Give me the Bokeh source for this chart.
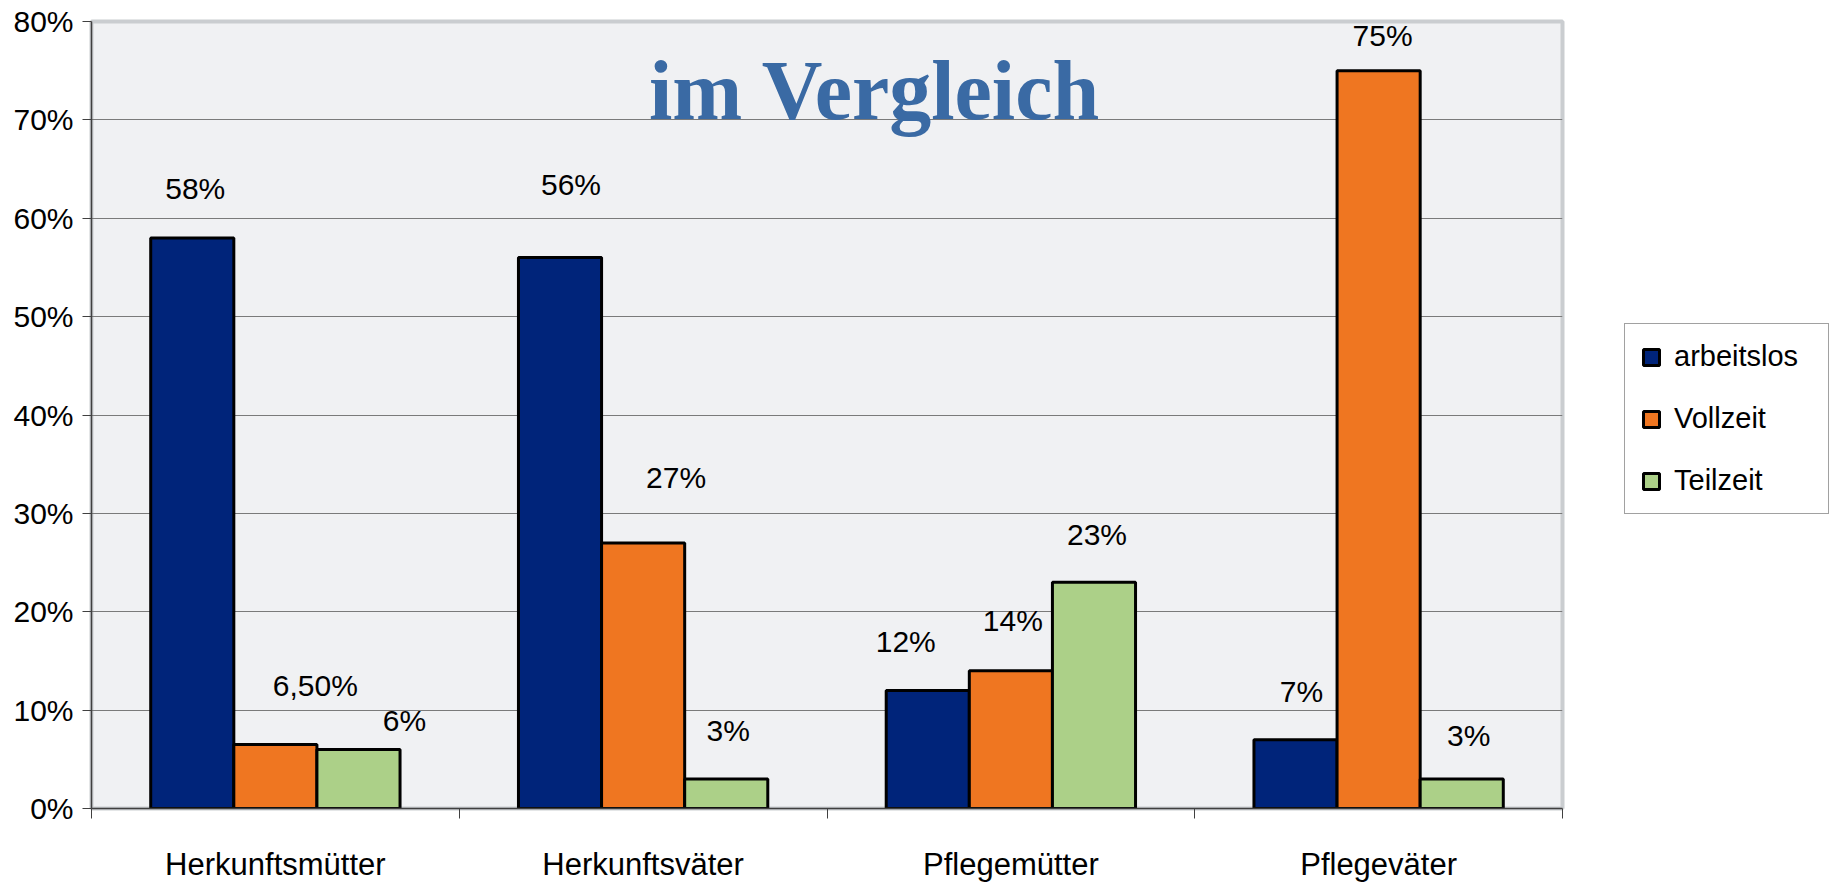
import numpy as np
from bokeh.plotting import figure
from bokeh.layouts import row
from bokeh.models import (ColumnDataSource, Range1d, FixedTicker, PrintfTickFormatter,
                          Legend, LegendItem, Label)
from bokeh.core.properties import value
from bokeh.embed import file_html
from bokeh.resources import INLINE

# ---- data ----
categories = ["Herkunftsmütter", "Herkunftsväter", "Pflegemütter", "Pflegeväter"]
series_names = ["arbeitslos", "Vollzeit", "Teilzeit"]
arbeitslos = [58, 56, 12, 7]
vollzeit = [6.5, 27, 14, 75]
teilzeit = [6, 3, 23, 3]
labels_arbeitslos = ["58%", "56%", "12%", "7%"]
labels_vollzeit = ["6,50%", "27%", "14%", "75%"]
labels_teilzeit = ["6%", "3%", "23%", "3%"]
y_ticks = [0, 10, 20, 30, 40, 50, 60, 70, 80]
title_text = "im Vergleich"

# ---- styles ----
colors = ["#00247A", "#EF7621", "#ACD088"]
label_dx = [[3, 11, -22, 6], [40, 33, 2, 4], [46, 2, 3, 7]]
label_dy = [[49, 73, 49, 48], [59, 65, 50, 35], [29, 48, 48, 43]]
bar_w = 0.226
offsets = [-bar_w, 0.0, bar_w]
FONT = "Liberation Sans"

p = figure(width=1580, height=884, output_backend="svg", toolbar_location=None,
           x_range=Range1d(0, len(categories)), y_range=Range1d(0, 80),
           min_border_left=91, min_border_right=18, min_border_top=21,
           min_border_bottom=75)
p.background_fill_color = "#F0F1F3"
p.border_fill_color = "white"
p.outline_line_color = "#CACDD0"
p.outline_line_width = 4

values = [arbeitslos, vollzeit, teilzeit]
texts = [labels_arbeitslos, labels_vollzeit, labels_teilzeit]
centers = np.arange(len(categories)) + 0.5
for i, name in enumerate(series_names):
    src = ColumnDataSource(dict(x=centers + offsets[i], top=values[i], label=texts[i],
                                dx=label_dx[i], dy=[-d for d in label_dy[i]]))
    p.vbar(x="x", top="top", width=bar_w, bottom=0, source=src,
           fill_color=colors[i], line_color="black", line_width=3)
    p.text(x="x", y="top", text="label", x_offset="dx", y_offset="dy", source=src,
           text_font=value(FONT), text_font_size=value("30px"), text_color="black",
           text_align="center", text_baseline="middle")

# axes
p.yaxis.ticker = FixedTicker(ticks=y_ticks)
p.yaxis.formatter = PrintfTickFormatter(format="%d%%")
p.yaxis.major_label_text_font = FONT
p.yaxis.major_label_text_font_size = "30px"
p.yaxis.major_label_text_color = "black"
p.yaxis.major_tick_out = 9
p.yaxis.major_tick_in = 0
p.yaxis.minor_tick_line_color = None
p.yaxis.major_label_standoff = 9
p.yaxis.axis_line_color = "#404040"
p.yaxis.axis_line_width = 1.5
p.yaxis.major_tick_line_color = "#404040"

p.xaxis.ticker = FixedTicker(ticks=list(centers),
                             minor_ticks=list(range(len(categories) + 1)))
p.xaxis.major_label_overrides = {float(c): n for c, n in zip(centers, categories)}
p.xaxis.major_tick_out = 0
p.xaxis.major_tick_in = 0
p.xaxis.minor_tick_out = 10
p.xaxis.minor_tick_in = 0
p.xaxis.minor_tick_line_color = "#404040"
p.xaxis.axis_line_color = "#404040"
p.xaxis.axis_line_width = 1.5
p.xaxis.major_label_text_font = FONT
p.xaxis.major_label_text_font_size = "31px"
p.xaxis.major_label_text_color = "black"
p.xaxis.major_label_standoff = 28

p.xgrid.grid_line_color = None
p.ygrid.ticker = FixedTicker(ticks=y_ticks)
p.ygrid.grid_line_color = "#7a7a7a"
p.ygrid.grid_line_width = 1

# title inside the plot
p.add_layout(Label(x=2.13, y=73.0, text=title_text, text_font="Liberation Serif",
                   text_font_style="bold", text_font_size="84px", text_color="#3A6AA4",
                   text_align="center", text_baseline="alphabetic"))

# legend panel as a second, axis-free figure to the right
p2 = figure(width=249, height=884, output_backend="svg", toolbar_location=None,
            x_axis_location=None, y_axis_location=None,
            x_range=Range1d(0, 1), y_range=Range1d(0, 1),
            min_border_left=0, min_border_right=0, min_border_top=0, min_border_bottom=0)
p2.outline_line_color = None
p2.background_fill_color = "white"
p2.border_fill_color = "white"
p2.grid.visible = False
leg_renderers = []
for i, name in enumerate(series_names):
    # legend swatch renderers (NaN data: nothing drawn, only the legend swatch)
    r = p2.vbar(x=[float("nan")], top=[float("nan")], bottom=[float("nan")], width=1,
                fill_color=colors[i], line_color="black", line_width=3)
    leg_renderers.append(r)

legend = Legend(items=[LegendItem(label=n, renderers=[r]) for n, r in zip(series_names, leg_renderers)],
                location=(44, 294), orientation="vertical")
legend.label_text_font = FONT
legend.label_text_font_size = "29px"
legend.label_text_color = "black"
legend.label_width = 138
legend.glyph_width = 20
legend.glyph_height = 20
legend.label_standoff = 13
legend.spacing = 29
legend.padding = 16
legend.margin = 0
legend.border_line_color = "#444444"
legend.border_line_width = 1
legend.background_fill_color = "white"
legend.background_fill_alpha = 1.0
p2.add_layout(legend, "center")

layout = row(p, p2)
open("out.html", "w").write(file_html(layout, INLINE))
